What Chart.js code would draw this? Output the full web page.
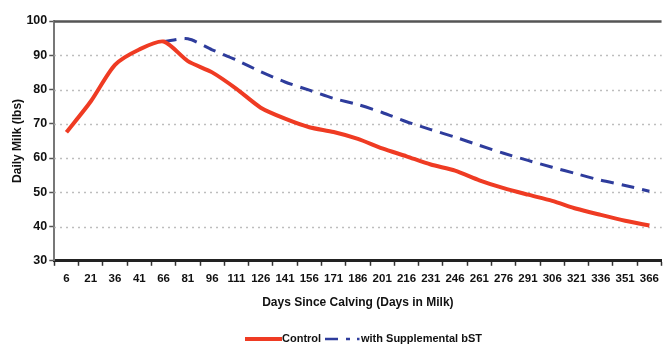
<!DOCTYPE html>
<html lang="en">
<head>
    <meta charset="UTF-8">
    <title>Daily Milk</title>
    <style>
        html, body { margin: 0; padding: 0; background: #fff; }
        #wrap { width: 665px; height: 348px; }
    </style>
</head>
<body>
    <div id="wrap"><canvas id="myChart" width="665" height="348"></canvas></div>
    <script src="https://cdn.jsdelivr.net/npm/chart.js"></script>
    <script>
        const days = ['6', '21', '36', '41', '66', '81', '96', '111', '126', '141', '156', '171', '186',
            '201', '216', '231', '246', '261', '276', '291', '306', '321', '336', '351', '366'];
        const control = [67.5, 76.5, 87.2, 91.7, 94, 88.3, 85.0, 80.2, 74.7, 71.5, 69.0, 67.6, 65.6,
            62.8, 60.5, 58.1, 56.3, 53.5, 51.2, 49.3, 47.5, 45.2, 43.4, 41.7, 40.3];
        const withBst = [null, null, null, null, 94, 94.8, 91.6, 88.6, 85.2, 82.2, 79.8, 77.4, 75.6,
            73.3, 70.6, 68.3, 66.1, 63.7, 61.4, 59.3, 57.3, 55.4, 53.5, 52.0, 50.3];
        const yTicks = [30, 40, 50, 60, 70, 80, 90, 100];

        const FONT = '"Liberation Sans", Arial, sans-serif';
        const RED = '#EF3B23';
        const BLUE = '#2E3C9C';

        // dotted horizontal grid + solid top line
        const gridPlugin = {
            id: 'dotGrid',
            beforeDatasetsDraw(chart) {
                const { ctx, chartArea } = chart;
                const y = chart.scales.y;
                ctx.save();
                yTicks.forEach(v => {
                    if (v === 30) return;
                    const py = Math.round(y.getPixelForValue(v)) + 0.5;
                    ctx.beginPath();
                    if (v === 100) {
                        ctx.setLineDash([]);
                        ctx.lineWidth = 2.5;
                        ctx.strokeStyle = '#555';
                    } else {
                        ctx.setLineDash([1.5, 4.5]);
                        ctx.lineWidth = 1.5;
                        ctx.strokeStyle = '#a8a8a8';
                    }
                    ctx.moveTo(chartArea.left, py);
                    ctx.lineTo(chartArea.right, py);
                    ctx.stroke();
                });
                ctx.restore();
            }
        };

        // legend at the bottom
        const legendPlugin = {
            id: 'bottomLegend',
            afterDraw(chart) {
                const ctx = chart.ctx;
                const ly = 339;
                ctx.save();
                ctx.lineCap = 'butt';
                ctx.strokeStyle = RED;
                ctx.lineWidth = 4;
                ctx.beginPath();
                ctx.moveTo(245, ly);
                ctx.lineTo(282, ly);
                ctx.stroke();

                ctx.font = 'bold 11px ' + FONT;
                ctx.fillStyle = '#111';
                ctx.textBaseline = 'middle';
                ctx.fillText('Control', 282, ly);

                ctx.strokeStyle = BLUE;
                ctx.lineWidth = 2.5;
                ctx.beginPath();
                ctx.moveTo(325, ly); ctx.lineTo(338, ly);
                ctx.moveTo(346, ly); ctx.lineTo(350, ly);
                ctx.moveTo(357, ly); ctx.lineTo(359.5, ly);
                ctx.stroke();
                ctx.fillText('with Supplemental bST', 361, ly);
                ctx.restore();
            }
        };

        const config = {
            type: 'line',
            data: {
                labels: days,
                datasets: [
                    {
                        label: 'Control',
                        data: control,
                        borderColor: RED,
                        borderWidth: 4,
                        pointRadius: 0,
                        tension: 0.25,
                        order: 1
                    },
                    {
                        label: 'with Supplemental bST',
                        data: withBst,
                        borderColor: BLUE,
                        borderWidth: 3,
                        borderDash: [13, 8],
                        pointRadius: 0,
                        tension: 0.25,
                        order: 2
                    }
                ]
            },
            options: {
                responsive: false,
                animation: false,
                layout: { padding: { left: 10, right: 0, top: 21, bottom: 36 } },
                plugins: {
                    legend: { display: false },
                    tooltip: { enabled: false }
                },
                scales: {
                    x: {
                        offset: true,
                        grid: {
                            offset: true,
                            drawOnChartArea: false,
                            drawTicks: true,
                            tickLength: 5,
                            tickColor: '#333',
                            tickWidth: 1.5
                        },
                        border: { color: '#222', width: 3 },
                        ticks: {
                            autoSkip: false,
                            maxRotation: 0,
                            padding: 6,
                            color: '#111',
                            font: { family: FONT, size: 11.5, weight: 'bold' }
                        },
                        title: {
                            display: true,
                            text: 'Days Since Calving (Days in Milk)',
                            color: '#111',
                            padding: { top: 4, bottom: 2 },
                            font: { family: FONT, size: 12, weight: 'bold' }
                        }
                    },
                    y: {
                        min: 30,
                        max: 100,
                        afterBuildTicks(scale) {
                            scale.ticks = yTicks.map(v => ({ value: v }));
                        },
                        grid: {
                            drawOnChartArea: false,
                            drawTicks: true,
                            tickLength: 5,
                            tickColor: '#555',
                            tickWidth: 1.5
                        },
                        border: { color: '#777', width: 2 },
                        ticks: {
                            padding: 2,
                            color: '#111',
                            font: { family: FONT, size: 12.5, weight: 'bold' }
                        },
                        title: {
                            display: true,
                            text: 'Daily Milk (lbs)',
                            color: '#111',
                            padding: { top: 0, bottom: 0 },
                            font: { family: FONT, size: 12, weight: 'bold' }
                        }
                    }
                }
            },
            plugins: [gridPlugin, legendPlugin]
        };

        const myChart = new Chart(document.getElementById('myChart'), config);
    </script>
</body>
</html>
